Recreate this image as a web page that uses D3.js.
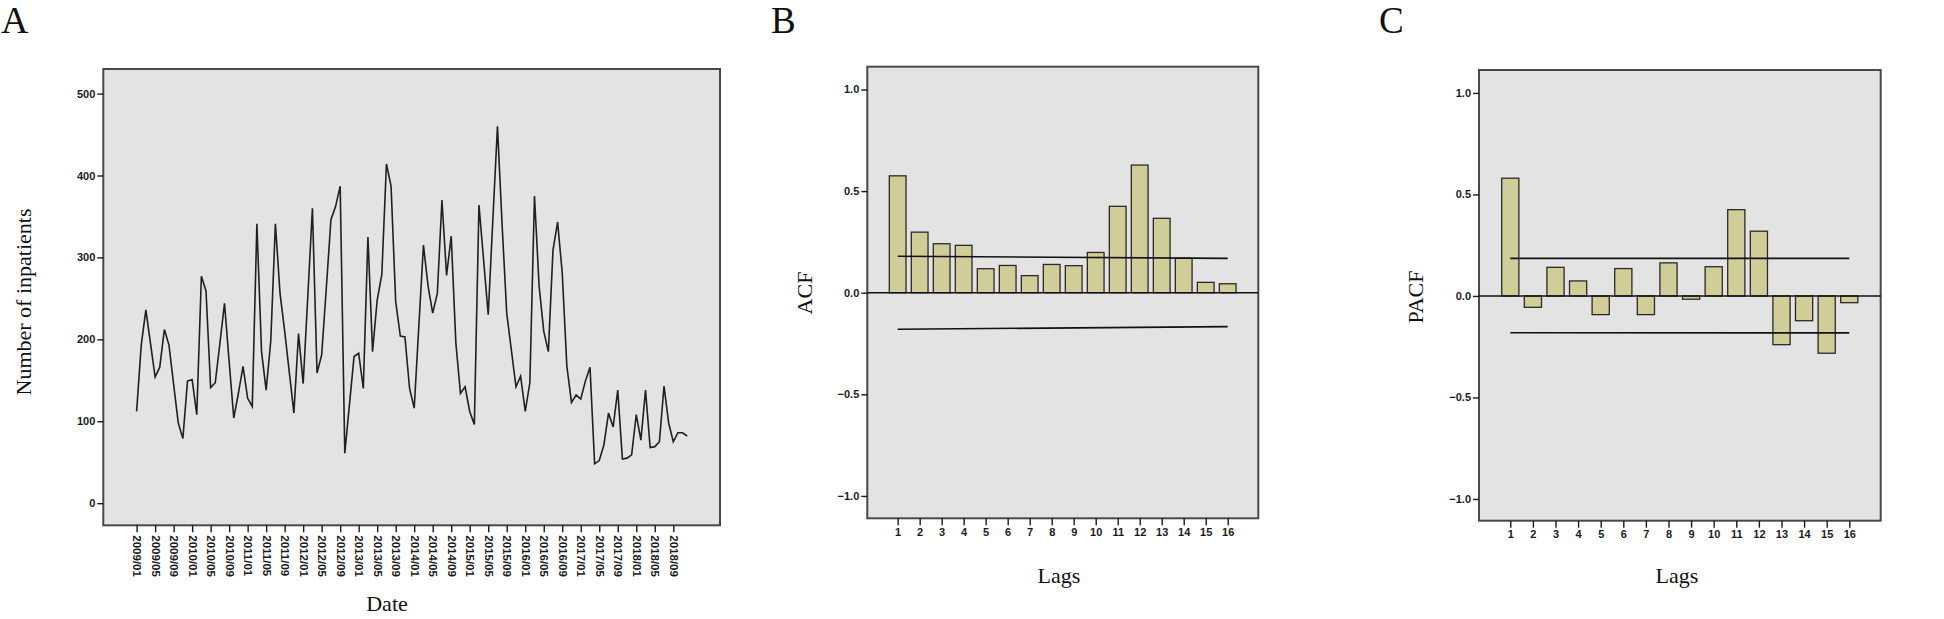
<!DOCTYPE html>
<html>
<head>
<meta charset="utf-8">
<script src="https://cdn.jsdelivr.net/npm/d3@7"></script>
<style>
  html, body { margin: 0; padding: 0; background: #ffffff; }
  svg { display: block; }
  .tick text { font-family: "Liberation Sans", Arial, sans-serif; font-weight: bold; fill: #1a1a1a; }
  .serif { font-family: "Liberation Serif", "Times New Roman", serif; fill: #111; }
</style>
</head>
<body>
<svg id="chart" width="1944" height="619"></svg>
<script>
// ---------------- DATA ----------------
// Panel A: monthly number of inpatients, 2009/01 - 2018/12
const startYear = 2009;
const inpatients = [
  112, 193, 236, 195, 154, 166, 212, 193, 145, 98, 79, 149,
  151, 108, 277, 259, 141, 147, 195, 244, 173, 104, 134, 167,
  128, 118, 341, 185, 138, 198, 341, 256, 210, 160, 110, 207,
  146, 252, 360, 159, 181, 262, 346, 362, 387, 61, 120, 179,
  183, 140, 325, 185, 248, 279, 414, 387, 246, 204, 203, 140,
  116, 216, 315, 265, 232, 256, 370, 278, 326, 196, 134, 142,
  112, 96, 364, 297, 230, 346, 460, 340, 232, 187, 142, 155,
  112, 147, 375, 265, 210, 185, 309, 343, 281, 167, 123, 132,
  127, 149, 166, 48, 52, 71, 110, 93, 138, 54, 55, 59,
  108, 77, 138, 68, 69, 75, 143, 98, 75, 86, 86, 82
];
const dateTickLabels = [
  "2009/01","2009/05","2009/09","2010/01","2010/05","2010/09",
  "2011/01","2011/05","2011/09","2012/01","2012/05","2012/09",
  "2013/01","2013/05","2013/09","2014/01","2014/05","2014/09",
  "2015/01","2015/05","2015/09","2016/01","2016/05","2016/09",
  "2017/01","2017/05","2017/09","2018/01","2018/05","2018/09"
];
const inpatientTicks = [0, 100, 200, 300, 400, 500];

// Panels B and C: lags 1..16
const lags = [1,2,3,4,5,6,7,8,9,10,11,12,13,14,15,16];
const acf = [0.575, 0.298, 0.241, 0.233, 0.118, 0.134, 0.084, 0.139,
             0.133, 0.198, 0.425, 0.628, 0.366, 0.169, 0.051, 0.044];
const acfUpper = [0.179, 0.169];   // at lag 1 and lag 16
const acfLower = [-0.180, -0.167]; // at lag 1 and lag 16
const pacf = [0.580, -0.056, 0.141, 0.074, -0.092, 0.135, -0.092, 0.163,
              -0.016, 0.144, 0.425, 0.319, -0.240, -0.122, -0.282, -0.033];
const pacfUpper = [0.185, 0.185];
const pacfLower = [-0.181, -0.182];
const corrTicks = [-1.0, -0.5, 0.0, 0.5, 1.0];

// ---------------- STYLE ----------------
const plotFill = "#e3e3e3";
const frameColor = "#4d4844";
const barFill = "#d0cd99";
const inkColor = "#1c1a18";

const svg = d3.select("#chart");

function styleAxis(g) {
  g.select(".domain").remove();
  g.selectAll(".tick line").attr("stroke", inkColor).attr("stroke-width", 1.4);
}

// ---------------- PANEL A ----------------
(function () {
  const x = d3.scaleLinear().domain([-7.2, 126.1]).range([103.3, 720]);
  const y = d3.scaleLinear().domain([-27, 530]).range([525.3, 69]);
  const g = svg.append("g");

  g.append("rect")
    .attr("x", x.range()[0]).attr("y", y.range()[1])
    .attr("width", x.range()[1] - x.range()[0])
    .attr("height", y.range()[0] - y.range()[1])
    .attr("fill", plotFill).attr("stroke", frameColor).attr("stroke-width", 2);

  const line = d3.line().x((d, i) => x(i)).y(d => y(d));
  g.append("path").datum(inpatients)
    .attr("d", line).attr("fill", "none")
    .attr("stroke", "#221f1c").attr("stroke-width", 1.6)
    .attr("stroke-linejoin", "miter");

  const yAxis = g.append("g")
    .attr("transform", `translate(${x.range()[0]},0)`)
    .call(d3.axisLeft(y).tickValues(inpatientTicks).tickSize(6).tickPadding(2).tickFormat(d3.format("d")));
  styleAxis(yAxis);
  yAxis.selectAll("text").attr("font-size", 11);

  const tickIdx = dateTickLabels.map((_, k) => k * 4);
  const xAxis = g.append("g")
    .attr("transform", `translate(0,${y.range()[0]})`)
    .call(d3.axisBottom(x).tickValues(tickIdx).tickSize(7)
      .tickFormat((d, k) => dateTickLabels[k]));
  styleAxis(xAxis);
  xAxis.selectAll("text")
    .attr("font-size", 11.5)
    .attr("transform", "rotate(90)")
    .attr("text-anchor", "start")
    .attr("x", 10).attr("y", 0).attr("dy", "0.35em");

  g.append("text").attr("class", "serif")
    .attr("font-size", 22).attr("text-anchor", "middle")
    .attr("transform", "translate(31,302) rotate(-90)")
    .text("Number of inpatients");
  g.append("text").attr("class", "serif")
    .attr("font-size", 22).attr("text-anchor", "middle")
    .attr("x", 387).attr("y", 611).text("Date");
  g.append("text").attr("class", "serif")
    .attr("font-size", 38).attr("x", 1).attr("y", 33).text("A");
})();

// ---------------- PANELS B & C ----------------
function corrPanel(opts) {
  const x = d3.scaleLinear().domain(opts.xDomain).range(opts.xRange);
  const y = d3.scaleLinear().domain(opts.yDomain).range(opts.yRange);
  const g = svg.append("g");
  const left = x.range()[0], right = x.range()[1];
  const top = y.range()[1], bottom = y.range()[0];
  const step = x(2) - x(1);
  const bw = step * 0.76;

  g.append("rect")
    .attr("x", left).attr("y", top)
    .attr("width", right - left).attr("height", bottom - top)
    .attr("fill", plotFill).attr("stroke", frameColor).attr("stroke-width", 2);

  g.selectAll("rect.bar").data(opts.values).join("rect")
    .attr("class", "bar")
    .attr("x", (d, i) => x(lags[i]) - bw / 2)
    .attr("width", bw)
    .attr("y", d => y(Math.max(0, d)))
    .attr("height", d => Math.abs(y(d) - y(0)))
    .attr("fill", barFill).attr("stroke", "#2b2926").attr("stroke-width", 1.3);

  // zero line
  g.append("line")
    .attr("x1", left).attr("x2", right)
    .attr("y1", y(0)).attr("y2", y(0))
    .attr("stroke", "#111").attr("stroke-width", 1.6);

  // confidence limits
  const ends = [lags[0], lags[lags.length - 1]];
  [opts.upper, opts.lower].forEach(lim => {
    g.append("line")
      .attr("x1", x(ends[0])).attr("x2", x(ends[1]))
      .attr("y1", y(lim[0])).attr("y2", y(lim[1]))
      .attr("stroke", "#111").attr("stroke-width", 1.6);
  });

  const yAxis = g.append("g")
    .attr("transform", `translate(${left},0)`)
    .call(d3.axisLeft(y).tickValues(corrTicks).tickSize(6).tickPadding(2).tickFormat(d3.format(".1f")));
  styleAxis(yAxis);
  yAxis.selectAll("text").attr("font-size", 11);

  const xAxis = g.append("g")
    .attr("transform", `translate(0,${bottom})`)
    .call(d3.axisBottom(x).tickValues(lags).tickSize(7).tickPadding(3).tickFormat(d3.format("d")));
  styleAxis(xAxis);
  xAxis.selectAll("text").attr("font-size", 11);

  g.append("text").attr("class", "serif")
    .attr("font-size", 22).attr("text-anchor", "middle")
    .attr("transform", `translate(${opts.yLabelX},${opts.yLabelY}) rotate(-90)`)
    .text(opts.yLabel);
  g.append("text").attr("class", "serif")
    .attr("font-size", 22).attr("text-anchor", "middle")
    .attr("x", opts.lagsX).attr("y", 583).text("Lags");
  g.append("text").attr("class", "serif")
    .attr("font-size", 37).attr("x", opts.letterX).attr("y", 33).text(opts.letter);
}

corrPanel({
  xDomain: [-0.38, 17.39], xRange: [867.3, 1258.3],
  yDomain: [-1.11, 1.112], yRange: [518.3, 66.7],
  values: acf, upper: acfUpper, lower: acfLower,
  yLabel: "ACF", yLabelX: 812, yLabelY: 293, lagsX: 1059,
  letter: "B", letterX: 771
});

corrPanel({
  xDomain: [-0.385, 17.39], xRange: [1479, 1880.7],
  yDomain: [-1.107, 1.113], yRange: [520.7, 70],
  values: pacf, upper: pacfUpper, lower: pacfLower,
  yLabel: "PACF", yLabelX: 1423, yLabelY: 297, lagsX: 1677,
  letter: "C", letterX: 1379
});
</script>
</body>
</html>
